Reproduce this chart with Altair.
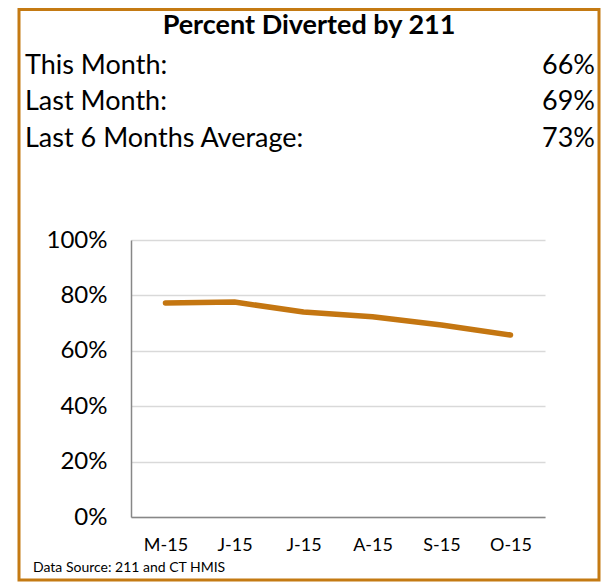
import altair as alt
import pandas as pd

# ---- data ----
month_order = [0, 1, 2, 3, 4, 5]
month_labels = ["M-15", "J-15", "J-15", "A-15", "S-15", "O-15"]
pct_diverted = [0.773, 0.776, 0.740, 0.723, 0.693, 0.657]

title_text = "Percent Diverted by 211"
summary_labels = ["This Month:", "Last Month:", "Last 6 Months Average:"]
summary_values = ["66%", "69%", "73%"]
source_note = "Data Source: 211 and CT HMIS"

FONT = "Lato"
ORANGE = "#C47611"

df = pd.DataFrame({"order": month_order, "pct": pct_diverted})
label_expr = "[" + ",".join(f"'{m}'" for m in month_labels) + "][datum.value]"

line = alt.Chart(df).mark_line(
    color=ORANGE, strokeWidth=5.5, strokeCap="round", strokeJoin="round"
).encode(
    x=alt.X(
        "order:O",
        scale=alt.Scale(type="point", padding=0.5),
        axis=alt.Axis(
            labelExpr=label_expr, labelAngle=0, ticks=False, title=None,
            domainColor="#878787", domainWidth=1.5, labelFontSize=18,
            labelPadding=19, labelColor="black", labelFont=FONT, grid=False,
        ),
    ),
    y=alt.Y(
        "pct:Q",
        scale=alt.Scale(domain=[0, 1]),
        axis=alt.Axis(
            format=".0%", values=[0, 0.2, 0.4, 0.6, 0.8, 1.0], grid=True,
            gridColor="#D9D9D9", gridWidth=1.5, domainColor="#878787",
            domainWidth=1.5, ticks=False, title=None, labelFontSize=24,
            labelPadding=24, labelColor="black", labelFont=FONT,
        ),
    ),
)

one = pd.DataFrame({"k": [0]})

border = alt.Chart(one).mark_rect(
    filled=False, stroke="#C47A13", strokeWidth=3
).encode(
    x=alt.value(-112), x2=alt.value(468), y=alt.value(-230.5), y2=alt.value(340)
)

title = alt.Chart(one).mark_text(
    text=title_text, font=FONT, fontSize=27, fontWeight="bold",
    align="center", baseline="middle", color="black"
).encode(x=alt.value(178), y=alt.value(-214))

row_y = [-174, -138, -101]
rows = []
for lab, val, yy in zip(summary_labels, summary_values, row_y):
    rows.append(alt.Chart(one).mark_text(
        text=lab, font=FONT, fontSize=27, align="left", baseline="middle", color="black"
    ).encode(x=alt.value(-106), y=alt.value(yy)))
    rows.append(alt.Chart(one).mark_text(
        text=val, font=FONT, fontSize=27, align="right", baseline="middle", color="black"
    ).encode(x=alt.value(464), y=alt.value(yy)))

note = alt.Chart(one).mark_text(
    text=source_note, font=FONT, fontSize=14, align="left", baseline="middle", color="black"
).encode(x=alt.value(-98), y=alt.value(328))

chart = alt.layer(border, line, title, *rows, note).properties(
    width=414, height=277,
    padding={"left": 123, "top": 232, "right": 62, "bottom": 66},
    autosize="none",
).configure_view(stroke=None)

chart.save("out.html", embed_options={"renderer": "svg", "actions": False})
